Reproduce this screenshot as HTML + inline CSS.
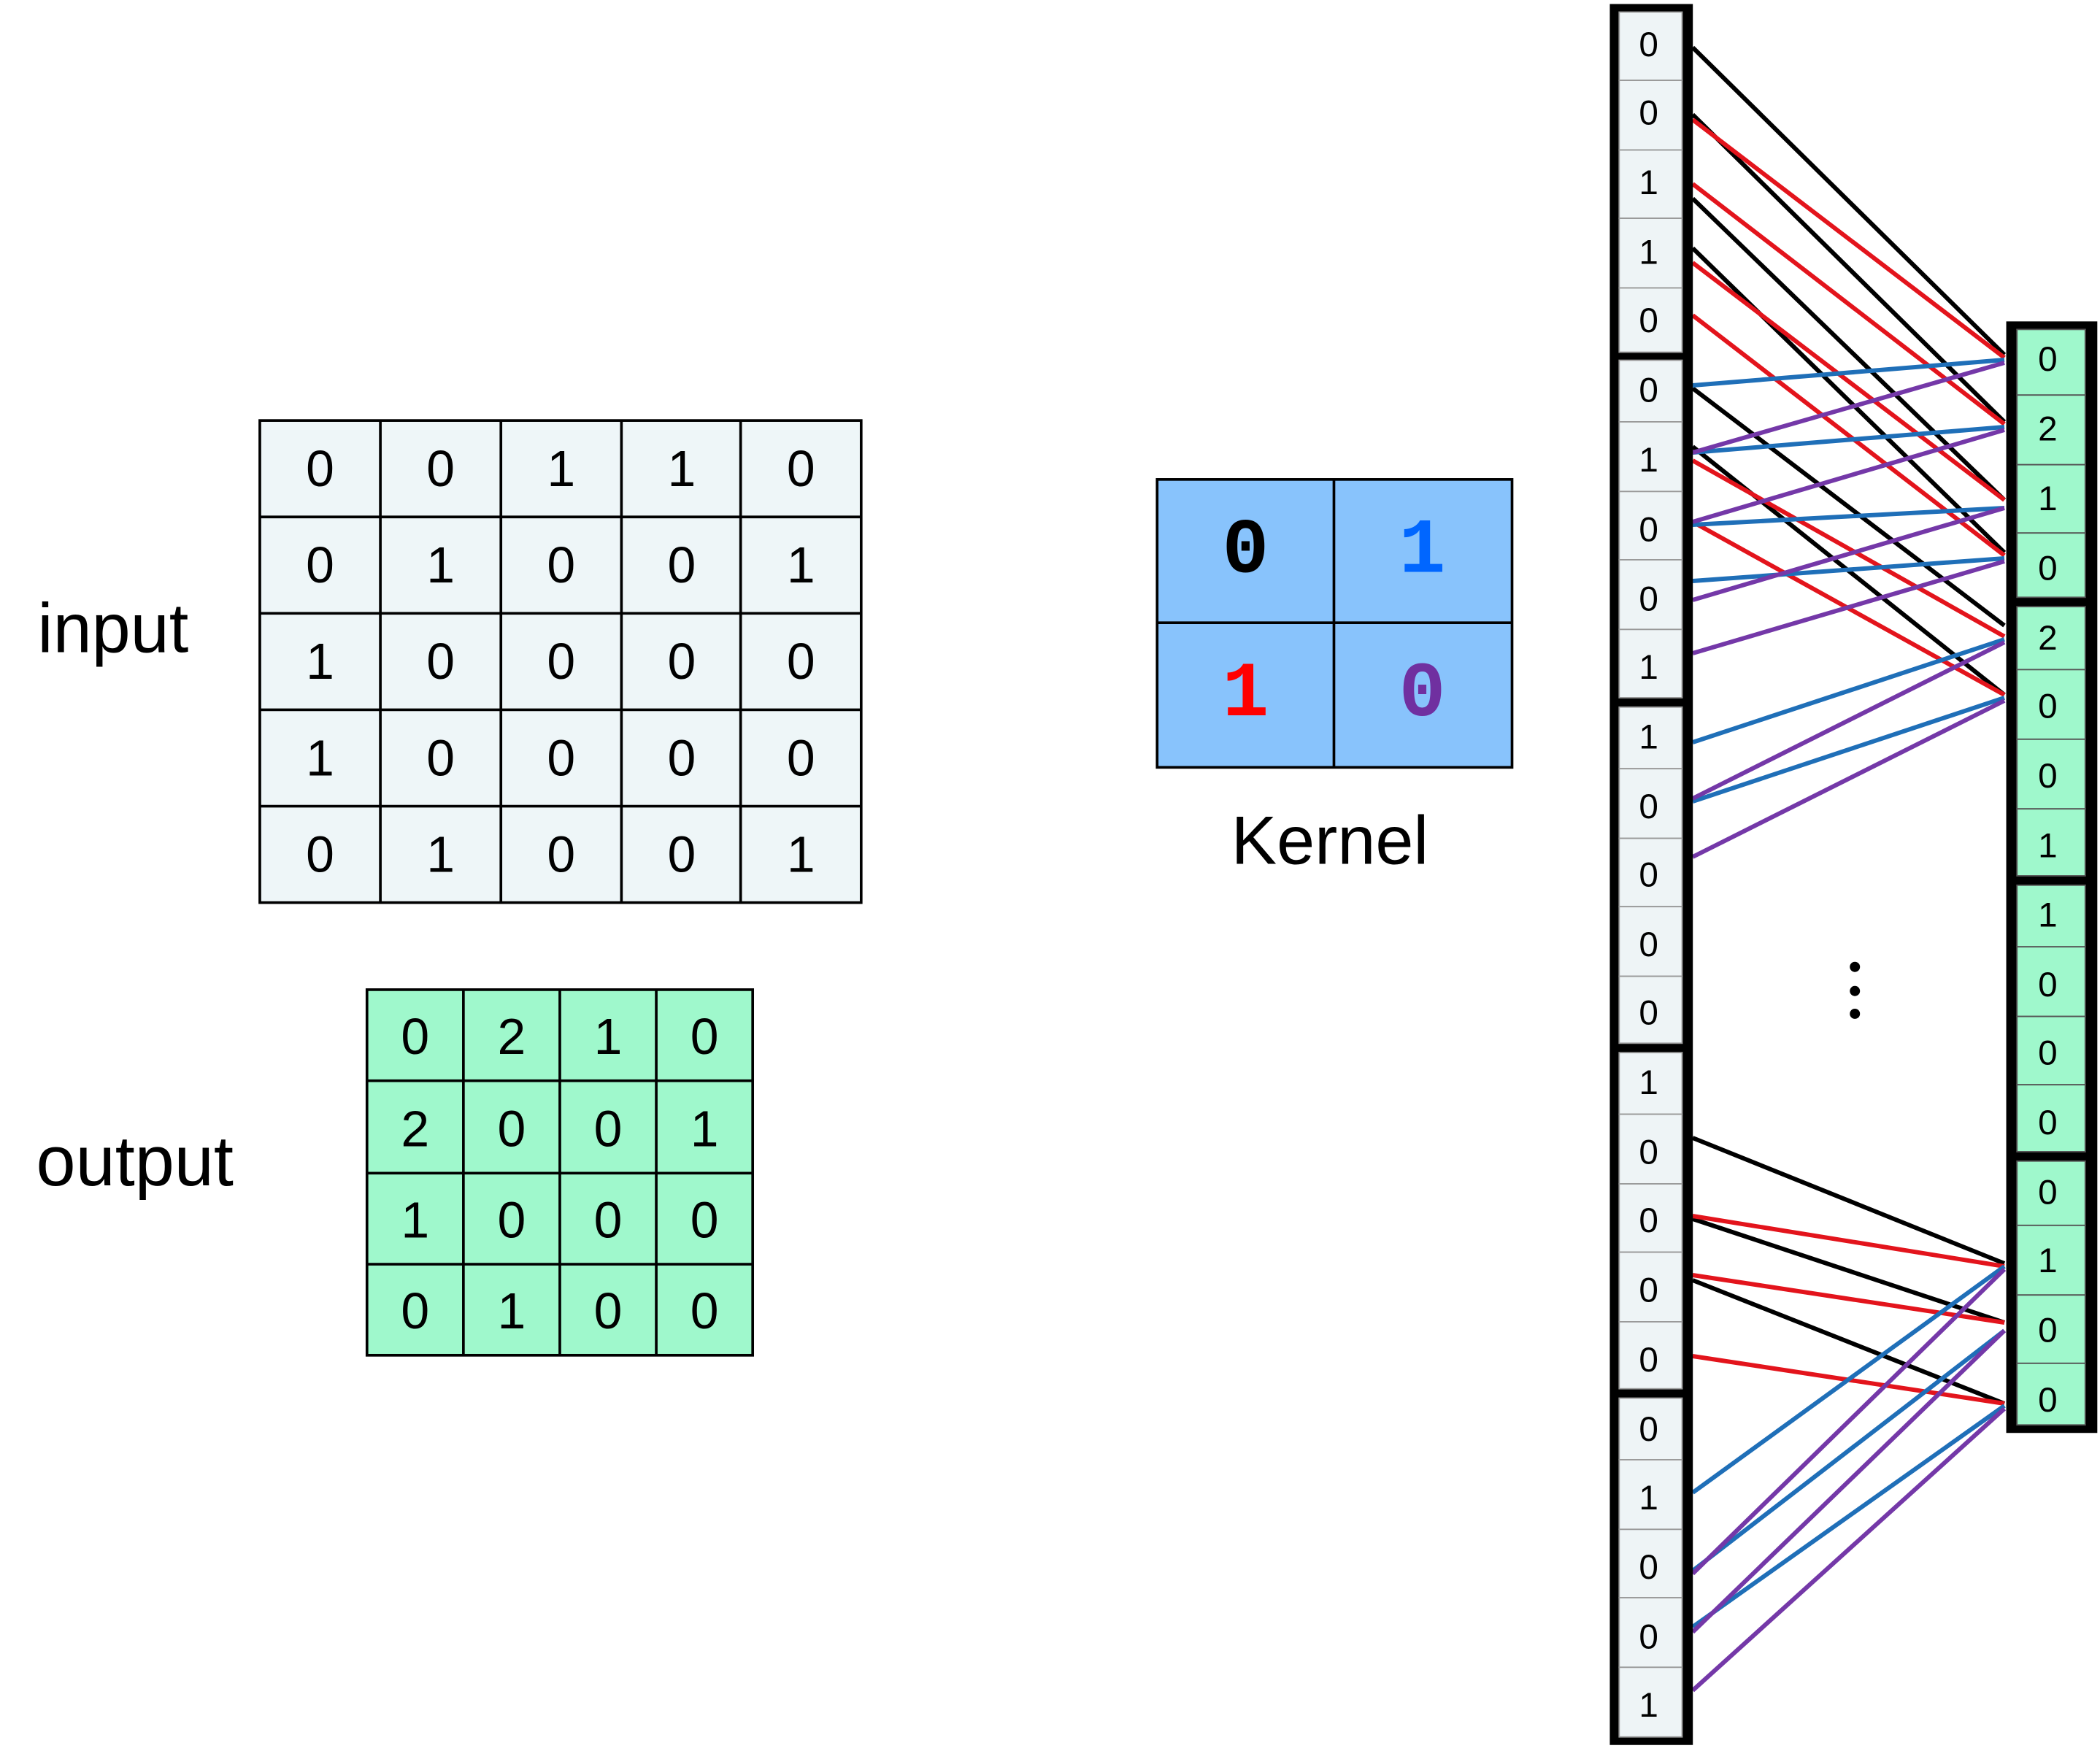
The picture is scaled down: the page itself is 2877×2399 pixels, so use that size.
<!DOCTYPE html>
<html><head><meta charset="utf-8"><style>
html,body{margin:0;padding:0;background:#fff;}
svg{display:block;}
.m{font-family:"Liberation Sans",sans-serif;}
.b{font-family:"Liberation Mono",monospace;}
.s{font-family:"Liberation Sans",sans-serif;}
</style></head><body>
<svg width="2877" height="2399" viewBox="0 0 1568 1307.5" xmlns="http://www.w3.org/2000/svg">
<rect width="1568" height="1307.5" fill="#fff"/>

<!-- input table -->
<g>
<rect x="194" y="314" width="449" height="360" fill="#eef6f8" stroke="#000" stroke-width="2"/>
<g stroke="#000" stroke-width="2">
<line x1="284" y1="314" x2="284" y2="674"/><line x1="374" y1="314" x2="374" y2="674"/>
<line x1="464" y1="314" x2="464" y2="674"/><line x1="553" y1="314" x2="553" y2="674"/>
<line x1="194" y1="386" x2="643" y2="386"/><line x1="194" y1="458" x2="643" y2="458"/>
<line x1="194" y1="530" x2="643" y2="530"/><line x1="194" y1="602" x2="643" y2="602"/>
</g>
<g class="m" font-size="38" text-anchor="middle" fill="#000">
<text x="239" y="363">0</text><text x="329" y="363">0</text><text x="419" y="363">1</text><text x="509" y="363">1</text><text x="598" y="363">0</text>
<text x="239" y="435">0</text><text x="329" y="435">1</text><text x="419" y="435">0</text><text x="509" y="435">0</text><text x="598" y="435">1</text>
<text x="239" y="507">1</text><text x="329" y="507">0</text><text x="419" y="507">0</text><text x="509" y="507">0</text><text x="598" y="507">0</text>
<text x="239" y="579">1</text><text x="329" y="579">0</text><text x="419" y="579">0</text><text x="509" y="579">0</text><text x="598" y="579">0</text>
<text x="239" y="651">0</text><text x="329" y="651">1</text><text x="419" y="651">0</text><text x="509" y="651">0</text><text x="598" y="651">1</text>
</g>
</g>
<text class="s" x="28" y="487" font-size="52" fill="#000">input</text>

<!-- output table -->
<g>
<rect x="274" y="739" width="288" height="273" fill="#9ff8cc" stroke="#000" stroke-width="2"/>
<g stroke="#000" stroke-width="2">
<line x1="346" y1="739" x2="346" y2="1012"/><line x1="418" y1="739" x2="418" y2="1012"/><line x1="490" y1="739" x2="490" y2="1012"/>
<line x1="274" y1="807" x2="562" y2="807"/><line x1="274" y1="876" x2="562" y2="876"/><line x1="274" y1="944" x2="562" y2="944"/>
</g>
<g class="m" font-size="38" text-anchor="middle" fill="#000">
<text x="310" y="787">0</text><text x="382" y="787">2</text><text x="454" y="787">1</text><text x="526" y="787">0</text>
<text x="310" y="856">2</text><text x="382" y="856">0</text><text x="454" y="856">0</text><text x="526" y="856">1</text>
<text x="310" y="924">1</text><text x="382" y="924">0</text><text x="454" y="924">0</text><text x="526" y="924">0</text>
<text x="310" y="992">0</text><text x="382" y="992">1</text><text x="454" y="992">0</text><text x="526" y="992">0</text>
</g>
</g>
<text class="s" x="27" y="885" font-size="53" fill="#000">output</text>

<!-- kernel -->
<rect x="864" y="358" width="265" height="215" fill="#88c3fc" stroke="#000" stroke-width="2"/>
<line x1="996" y1="358" x2="996" y2="573" stroke="#000" stroke-width="2"/>
<line x1="864" y1="465" x2="1129" y2="465" stroke="#000" stroke-width="2"/>
<g class="b" font-size="58" font-weight="bold" text-anchor="middle">
<text x="930" y="427" fill="#000">0</text>
<text x="1062" y="427" fill="#0066ff">1</text>
<text x="930" y="534" fill="#ff0000">1</text>
<text x="1062" y="534" fill="#7030a0">0</text>
</g>
<text class="s" x="993" y="645" font-size="51" text-anchor="middle" fill="#000">Kernel</text>

<!-- connector lines (full-res coords) -->
<g transform="scale(0.54502)" stroke-width="6" fill="none">
<g stroke="#000">
<line x1="2319" y1="65" x2="2746" y2="486"/><line x1="2319" y1="157" x2="2746" y2="578"/>
<line x1="2319" y1="272" x2="2746" y2="685"/><line x1="2319" y1="340" x2="2746" y2="757"/>
<line x1="2319" y1="532" x2="2746" y2="857"/><line x1="2319" y1="612" x2="2746" y2="952"/>
<line x1="2319" y1="1559" x2="2746" y2="1731"/><line x1="2319" y1="1670" x2="2746" y2="1812"/>
<line x1="2319" y1="1754" x2="2746" y2="1923"/>
</g>
<g stroke="#e3141c">
<line x1="2319" y1="164" x2="2746" y2="490"/><line x1="2319" y1="252" x2="2746" y2="581"/>
<line x1="2319" y1="360" x2="2746" y2="685"/><line x1="2319" y1="432" x2="2746" y2="761"/>
<line x1="2319" y1="631" x2="2746" y2="872"/><line x1="2319" y1="715" x2="2746" y2="952"/>
<line x1="2319" y1="1666" x2="2746" y2="1735"/><line x1="2319" y1="1747" x2="2746" y2="1812"/>
<line x1="2319" y1="1858" x2="2746" y2="1923"/>
</g>
<g stroke="#1f6fb8">
<line x1="2319" y1="528" x2="2746" y2="493"/><line x1="2319" y1="620" x2="2746" y2="585"/>
<line x1="2319" y1="719" x2="2746" y2="696"/><line x1="2319" y1="796" x2="2746" y2="765"/>
<line x1="2319" y1="1017" x2="2746" y2="876"/><line x1="2319" y1="1098" x2="2746" y2="956"/>
<line x1="2319" y1="2045" x2="2746" y2="1735"/><line x1="2319" y1="2152" x2="2746" y2="1823"/>
<line x1="2319" y1="2229" x2="2746" y2="1926"/>
</g>
<g stroke="#7438a8">
<line x1="2319" y1="620" x2="2746" y2="497"/><line x1="2319" y1="715" x2="2746" y2="589"/>
<line x1="2319" y1="822" x2="2746" y2="696"/><line x1="2319" y1="895" x2="2746" y2="769"/>
<line x1="2319" y1="1094" x2="2746" y2="880"/><line x1="2319" y1="1174" x2="2746" y2="960"/>
<line x1="2319" y1="2156" x2="2746" y2="1739"/><line x1="2319" y1="2236" x2="2746" y2="1823"/>
<line x1="2319" y1="2316" x2="2746" y2="1930"/>
</g>
</g>

<!-- left column -->
<rect x="1202" y="3" width="62" height="1300" fill="#000"/>
<g fill="#eef4f6" stroke="#999" stroke-width="1">
<rect x="1209" y="9" width="47" height="51"/><rect x="1209" y="60" width="47" height="52"/><rect x="1209" y="112" width="47" height="51"/><rect x="1209" y="163" width="47" height="52"/><rect x="1209" y="215" width="47" height="48"/>
<rect x="1209" y="269" width="47" height="46"/><rect x="1209" y="315" width="47" height="52"/><rect x="1209" y="367" width="47" height="51"/><rect x="1209" y="418" width="47" height="52"/><rect x="1209" y="470" width="47" height="51"/>
<rect x="1209" y="528" width="47" height="46"/><rect x="1209" y="574" width="47" height="52"/><rect x="1209" y="626" width="47" height="51"/><rect x="1209" y="677" width="47" height="52"/><rect x="1209" y="729" width="47" height="50"/>
<rect x="1209" y="786" width="47" height="46"/><rect x="1209" y="832" width="47" height="52"/><rect x="1209" y="884" width="47" height="51"/><rect x="1209" y="935" width="47" height="52"/><rect x="1209" y="987" width="47" height="50"/>
<rect x="1209" y="1044" width="47" height="46"/><rect x="1209" y="1090" width="47" height="52"/><rect x="1209" y="1142" width="47" height="51"/><rect x="1209" y="1193" width="47" height="52"/><rect x="1209" y="1245" width="47" height="52"/>
</g>
<g class="m" font-size="26" text-anchor="middle" fill="#000">
<text x="1231" y="42">0</text><text x="1231" y="93">0</text><text x="1231" y="145">1</text><text x="1231" y="197">1</text><text x="1231" y="248">0</text>
<text x="1231" y="300">0</text><text x="1231" y="352">1</text><text x="1231" y="404">0</text><text x="1231" y="456">0</text><text x="1231" y="507">1</text>
<text x="1231" y="559">1</text><text x="1231" y="611">0</text><text x="1231" y="662">0</text><text x="1231" y="714">0</text><text x="1231" y="765">0</text>
<text x="1231" y="817">1</text><text x="1231" y="869">0</text><text x="1231" y="920">0</text><text x="1231" y="972">0</text><text x="1231" y="1024">0</text>
<text x="1231" y="1076">0</text><text x="1231" y="1127">1</text><text x="1231" y="1179">0</text><text x="1231" y="1231">0</text><text x="1231" y="1282">1</text>
</g>

<!-- dots -->
<circle cx="1385" cy="722" r="3.8" fill="#000"/><circle cx="1385" cy="740" r="3.8" fill="#000"/><circle cx="1385" cy="757" r="3.8" fill="#000"/>

<!-- right column -->
<rect x="1498" y="240" width="68" height="830" fill="#000"/>
<g fill="#9ff8cc" stroke="#555" stroke-width="1">
<rect x="1506" y="246" width="51" height="49"/><rect x="1506" y="295" width="51" height="52"/><rect x="1506" y="347" width="51" height="51"/><rect x="1506" y="398" width="51" height="48"/>
<rect x="1506" y="453" width="51" height="47"/><rect x="1506" y="500" width="51" height="52"/><rect x="1506" y="552" width="51" height="52"/><rect x="1506" y="604" width="51" height="50"/>
<rect x="1506" y="661" width="51" height="46"/><rect x="1506" y="707" width="51" height="52"/><rect x="1506" y="759" width="51" height="51"/><rect x="1506" y="810" width="51" height="50"/>
<rect x="1506" y="867" width="51" height="48"/><rect x="1506" y="915" width="51" height="52"/><rect x="1506" y="967" width="51" height="51"/><rect x="1506" y="1018" width="51" height="46"/>
</g>
<g class="m" font-size="26" text-anchor="middle" fill="#000">
<text x="1529" y="277">0</text><text x="1529" y="329">2</text><text x="1529" y="381">1</text><text x="1529" y="433">0</text>
<text x="1529" y="485">2</text><text x="1529" y="536">0</text><text x="1529" y="588">0</text><text x="1529" y="640">1</text>
<text x="1529" y="692">1</text><text x="1529" y="744">0</text><text x="1529" y="795">0</text><text x="1529" y="847">0</text>
<text x="1529" y="899">0</text><text x="1529" y="950">1</text><text x="1529" y="1002">0</text><text x="1529" y="1054">0</text>
</g>
</svg>
</body></html>
